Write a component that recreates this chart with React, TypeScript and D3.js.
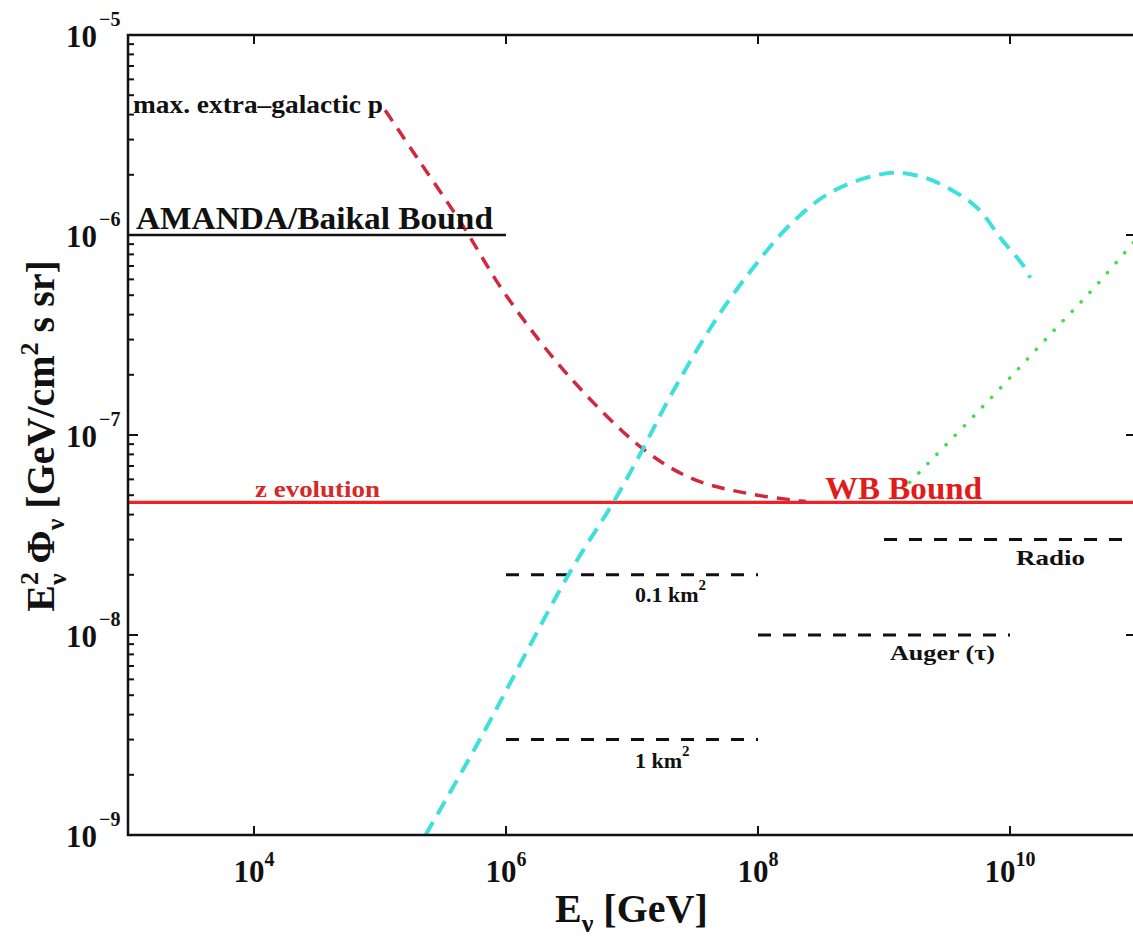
import React from 'react';
import * as d3 from 'd3';

// energies in GeV, fluxes E^2 Phi in GeV / cm^2 s sr
const maxExtraGalacticP = [
  [1.1e5, 4.2e-6], [2.0e5, 2.4e-6], [4.4e5, 1.15e-6], [1.0e6, 5.0e-7],
  [3.2e6, 1.95e-7], [1.26e7, 8.4e-8], [3.1e7, 6.0e-8], [8.3e7, 5.1e-8],
  [2.4e8, 4.65e-8],
];

const cyanFlux = [
  [2.3e5, 1.0e-9], [6.2e5, 3.0e-9], [3.2e6, 2.05e-8], [7.1e6, 4.6e-8],
  [1.23e7, 8.6e-8], [2.0e7, 1.55e-7], [4.1e7, 3.35e-7], [7.4e7, 5.75e-7],
  [1.86e8, 1.15e-6], [4.1e8, 1.68e-6], [1.1e9, 2.04e-6], [1.9e9, 1.97e-6],
  [2.9e9, 1.78e-6], [5.4e9, 1.38e-6], [8.7e9, 9.4e-7], [1.26e10, 7.1e-7],
  [1.45e10, 6.1e-7],
];

const greenFlux = [
  [1.6e9, 5.8e-8], [7.2e9, 1.55e-7], [2.3e10, 3.4e-7], [4.6e10, 5.4e-7],
  [1.0e11, 9.5e-7],
];

// horizontal bounds / sensitivities: [E from, E to, flux]
const amandaBound = [1e3, 1e6, 1e-6];
const wbBound = [1e3, 1e11, 4.6e-8];
const km01 = [1e6, 1e8, 2e-8];
const km1 = [1e6, 1e8, 3e-9];
const auger = [1e8, 1e10, 1e-8];
const radio = [1e9, 1e11, 3e-8];

const xTickExponents = [4, 6, 8, 10];
const yTickExponents = [-5, -6, -7, -8, -9];

const FONT = '"Liberation Serif", "Times New Roman", serif';

export default function App() {
  const W = 1133;
  const H = 944;
  const x = d3.scaleLog().domain([1e3, 1e11]).range([128, 1136]);
  const y = d3.scaleLog().domain([1e-9, 1e-5]).range([835, 35]);
  const [x0, x1] = x.range();
  const [y0, y1] = y.range();

  const line = d3
    .line<number[]>()
    .x(d => x(d[0]))
    .y(d => y(d[1]))
    .curve(d3.curveCatmullRom.alpha(0.5));

  const seg = (b: number[]) => `M${x(b[0])},${y(b[2])}H${x(b[1])}`;

  // minor ticks on y
  const minor: number[] = [];
  for (let e = -9; e < -5; e++) {
    for (let m = 2; m <= 9; m++) minor.push(m * Math.pow(10, e));
  }

  return (
    <svg
      width={W}
      height={H}
      style={{ position: 'absolute', left: 0, top: 0, background: '#fff' }}
      fontFamily={FONT}
      fontWeight="bold"
    >
      <defs>
        <clipPath id="plot">
          <rect x={x0} y={y1} width={x1 - x0} height={y0 - y1} />
        </clipPath>
      </defs>

      <g clipPath="url(#plot)" fill="none">
        <path d={seg(amandaBound)} stroke="#111" strokeWidth={2.5} />
        <path d={seg(wbBound)} stroke="#ee2222" strokeWidth={3.2} />
        <path d={seg(km01)} stroke="#111" strokeWidth={3} strokeDasharray="13,12" />
        <path d={seg(km1)} stroke="#111" strokeWidth={3} strokeDasharray="13,12" />
        <path d={seg(auger)} stroke="#111" strokeWidth={3} strokeDasharray="13,12" />
        <path d={seg(radio)} stroke="#111" strokeWidth={3} strokeDasharray="13,12" />
        <path
          d={line(maxExtraGalacticP) || ''}
          stroke="#d0283e"
          strokeWidth={3.5}
          strokeDasharray="13,9"
        />
        <path
          d={line(cyanFlux) || ''}
          stroke="#3fe0dc"
          strokeWidth={4}
          strokeDasharray="15,9"
        />
        <path
          d={line(greenFlux) || ''}
          stroke="#3fdc4c"
          strokeWidth={3.5}
          strokeLinecap="round"
          strokeDasharray="0.1,13"
        />
      </g>

      {/* frame and ticks */}
      <rect x={x0} y={y1} width={x1 - x0} height={y0 - y1} fill="none" stroke="#111" strokeWidth={2.5} />
      {xTickExponents.map(e => {
        const px = x(Math.pow(10, e));
        return (
          <g key={'xt' + e}>
            <line x1={px} x2={px} y1={y0} y2={y0 - 9} stroke="#111" strokeWidth={2} />
            <line x1={px} x2={px} y1={y1} y2={y1 + 9} stroke="#111" strokeWidth={2} />
            <text x={px} y={882} textAnchor="middle" fontSize={31} fill="#111">
              10<tspan dy={-16} fontSize={20}>{e}</tspan>
            </text>
          </g>
        );
      })}
      {minor.map((v, i) => (
        <line key={'ym' + i} x1={x0} x2={x0 + 6} y1={y(v)} y2={y(v)} stroke="#111" strokeWidth={2} />
      ))}
      {yTickExponents.map(e => {
        const py = y(Math.pow(10, e));
        return (
          <g key={'yt' + e}>
            <line x1={x0} x2={x0 + 10} y1={py} y2={py} stroke="#111" strokeWidth={2} />
            <line x1={x1} x2={x1 - 10} y1={py} y2={py} stroke="#111" strokeWidth={2} />
            <text x={97} y={py + 12} textAnchor="end" fontSize={31} fill="#111">10</text>
            <text x={99} y={py - 9} fontSize={20} fill="#111">{'\u2212' + Math.abs(e)}</text>
          </g>
        );
      })}

      {/* annotations */}
      <text x={133} y={113} fontSize={25} fill="#111" textLength={250} lengthAdjust="spacingAndGlyphs">
        max. extra–galactic p
      </text>
      <text x={136} y={229} fontSize={31} fill="#111" textLength={357} lengthAdjust="spacingAndGlyphs">
        AMANDA/Baikal Bound
      </text>
      <text x={255} y={497} fontSize={23} fill="#d42a2a" textLength={125} lengthAdjust="spacingAndGlyphs">
        z evolution
      </text>
      <text x={825} y={499} fontSize={32} fill="#e21b1b" textLength={157} lengthAdjust="spacingAndGlyphs">
        WB Bound
      </text>
      <text x={635} y={602} fontSize={22} fill="#111">
        0.1 km<tspan dy={-12} fontSize={15}>2</tspan>
      </text>
      <text x={635} y={768} fontSize={22} fill="#111">
        1 km<tspan dy={-12} fontSize={15}>2</tspan>
      </text>
      <text x={890} y={660} fontSize={22} fill="#111" textLength={105} lengthAdjust="spacingAndGlyphs">
        Auger (τ)
      </text>
      <text x={1016} y={565} fontSize={22} fill="#111" textLength={69} lengthAdjust="spacingAndGlyphs">
        Radio
      </text>

      {/* axis titles */}
      <text x={555} y={922} fontSize={40} fill="#111">
        E<tspan dy={10} fontSize={26}>ν</tspan>
        <tspan dy={-10}> [GeV]</tspan>
      </text>
      <text transform="translate(54,436) rotate(-90)" textAnchor="middle" fontSize={40} fill="#111">
        E<tspan dy={-16} fontSize={26}>2</tspan>
        <tspan dx={-13} dy={28} fontSize={26}>ν</tspan>
        <tspan dy={-12}>{'  Φ'}</tspan>
        <tspan dy={10} fontSize={26}>ν</tspan>
        <tspan dy={-10}>{'   [GeV/cm'}</tspan>
        <tspan dy={-16} fontSize={26}>2</tspan>
        <tspan dy={16}> s sr]</tspan>
      </text>
    </svg>
  );
}
